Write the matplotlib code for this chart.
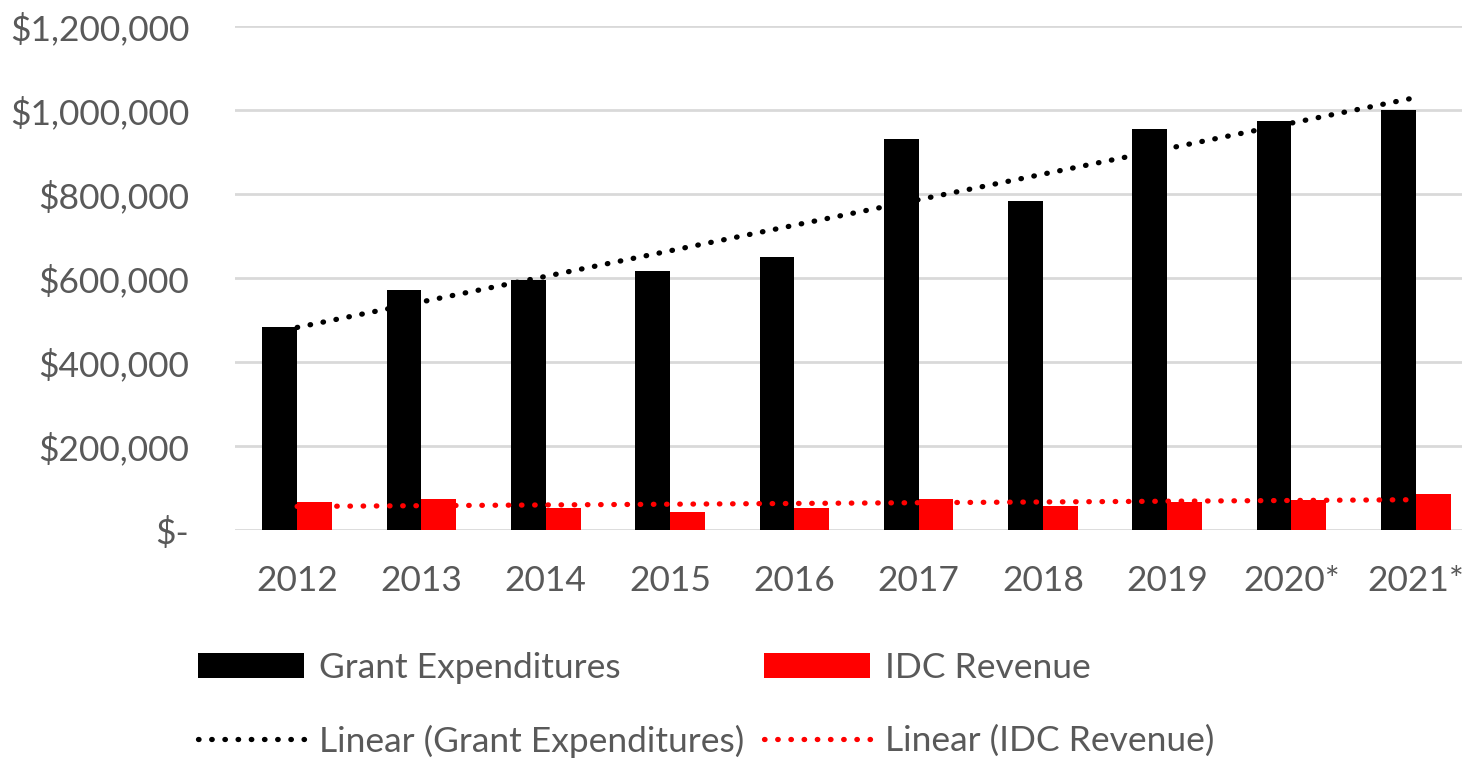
import numpy as np
import matplotlib.pyplot as plt
from matplotlib.ticker import FuncFormatter

years = ['2012', '2013', '2014', '2015', '2016', '2017', '2018', '2019', '2020*', '2021*']
grant_exp = [483000, 572000, 596000, 616000, 651000, 930000, 784000, 955000, 974000, 999000]
idc_rev = [67000, 73000, 53000, 42000, 52000, 73000, 57000, 67000, 71000, 86000]

GREY = '#595959'
plt.rcParams['font.family'] = ['Lato', 'DejaVu Sans']

fig = plt.figure(figsize=(14.62, 7.58), dpi=100)
ax = fig.add_axes([235/1462, 1-530/758, (1462-235)/1462, (530-26)/758])

x = np.arange(len(years))
w = 0.28
ax.bar(x - w/2, grant_exp, w, color='black', label='Grant Expenditures', zorder=2)
ax.bar(x + w/2, idc_rev, w, color='#ff0000', label='IDC Revenue', zorder=2)

# linear trendlines from the data
dots = (0, (0.1, 2.4))
g_fit = np.polyfit(x, grant_exp, 1)
i_fit = np.polyfit(x, idc_rev, 1)
ax.plot(x, np.polyval(g_fit, x), color='black', lw=3.8, ls=dots, dash_capstyle='round',
        label='Linear (Grant Expenditures)', zorder=3)
ax.plot(x, np.polyval(i_fit, x), color='#ff0000', lw=3.8, ls=dots, dash_capstyle='round',
        label='Linear (IDC Revenue)', zorder=3)

ax.set_xlim(-0.5, 9.372)
ax.set_ylim(0, 1200000)
ax.set_yticks(np.arange(0, 1200001, 200000))
ax.yaxis.set_major_formatter(FuncFormatter(lambda v, p: '$-' if v == 0 else '${:,.0f}'.format(v)))
ax.set_xticks(x)
ax.set_xticklabels(years)
ax.tick_params(axis='both', length=0, labelsize=25.5, colors=GREY)
ax.tick_params(axis='y', pad=33)
ax.tick_params(axis='x', pad=25)
ax.grid(axis='y', color='#d9d9d9', lw=2, zorder=0)
for s in ax.spines.values():
    s.set_visible(False)

h, l = ax.get_legend_handles_labels()
order = [2, 0, 3, 1]
leg = fig.legend([h[i] for i in order], [l[i] for i in order], ncol=2, loc='upper left',
                 bbox_to_anchor=(198/1462, 1-652/758), frameon=False, fontsize=25.5,
                 labelcolor=GREY, handlelength=3.0, handletextpad=0.42, columnspacing=0.55,
                 labelspacing=1.15, borderpad=0, borderaxespad=0)

fig.savefig('out.png', dpi=100)
